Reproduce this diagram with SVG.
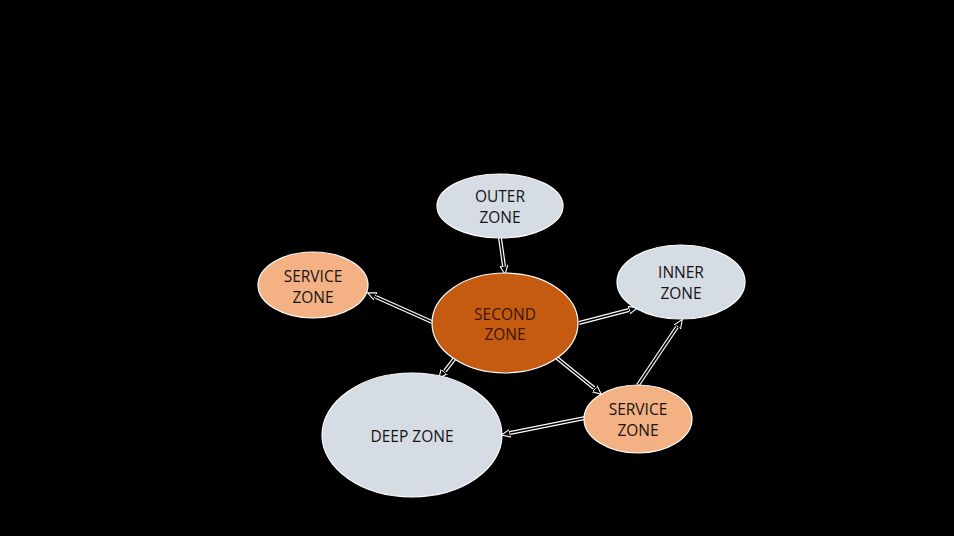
<svg xmlns="http://www.w3.org/2000/svg" width="954" height="536" viewBox="0 0 954 536">
<defs>
<style>
.bg{fill:#000}
.node ellipse{stroke:#fff;stroke-width:1.2}
.blue{fill:#d6dce4}
.light{fill:#f4b183}
.dark{fill:#c55a11}
text{font-family:"Open Sans","Liberation Sans",sans-serif;font-size:15.5px;fill:#141414;text-anchor:middle}
.dt{fill:#3a1604}
.outer{fill:none;stroke:#fff;stroke-width:4}
.inner{fill:none;stroke:#000;stroke-width:1.6}
</style>
<marker id="ah" viewBox="0 0 10 10" refX="9" refY="5" markerWidth="9" markerHeight="9" markerUnits="userSpaceOnUse" orient="auto">
<path d="M0,0.8 L9.5,5 L0,9.2 Z" fill="#000" stroke="#fff" stroke-width="1.2"/>
</marker>
</defs>
<rect class="bg" x="0" y="0" width="954" height="536"/>
<g id="connectors">
<path class="outer" d="M500,238 L504,266"/><path class="inner" d="M500,238 L504,266"/>
<path class="outer" d="M432,322 L376,297"/><path class="inner" d="M432,322 L376,297"/>
<path class="outer" d="M579,323 L629,310"/><path class="inner" d="M579,323 L629,310"/>
<path class="outer" d="M455,358 L445,371"/><path class="inner" d="M455,358 L445,371"/>
<path class="outer" d="M557,358 L594,388"/><path class="inner" d="M557,358 L594,388"/>
<path class="outer" d="M638,385 L677,327"/><path class="inner" d="M638,385 L677,327"/>
<path class="outer" d="M585,418 L510,433"/><path class="inner" d="M585,418 L510,433"/>
<g fill="none" stroke="none">
<path d="M500,238 L505,274" marker-end="url(#ah)"/>
<path d="M432,322 L368,293" marker-end="url(#ah)"/>
<path d="M579,323 L637,308" marker-end="url(#ah)"/>
<path d="M455,358 L439,378" marker-end="url(#ah)"/>
<path d="M557,358 L601,394" marker-end="url(#ah)"/>
<path d="M638,385 L682,320" marker-end="url(#ah)"/>
<path d="M585,418 L502,435" marker-end="url(#ah)"/>
</g>
</g>
<g id="outer-zone" class="node"><ellipse class="blue" cx="500" cy="206" rx="63" ry="32"/><text x="500" y="201.5">OUTER</text><text x="500" y="222.5">ZONE</text></g>
<g id="service-zone-left" class="node"><ellipse class="light" cx="313" cy="285" rx="55" ry="33"/><text x="313" y="281.5">SERVICE</text><text x="313" y="302.5">ZONE</text></g>
<g id="second-zone" class="node"><ellipse class="dark" cx="505" cy="323" rx="73" ry="50"/><text class="dt" x="505" y="319.5">SECOND</text><text class="dt" x="505" y="340">ZONE</text></g>
<g id="inner-zone" class="node"><ellipse class="blue" cx="681" cy="282" rx="64" ry="37"/><text x="681" y="277.5">INNER</text><text x="681" y="298.5">ZONE</text></g>
<g id="service-zone-right" class="node"><ellipse class="light" cx="638" cy="419" rx="54" ry="34"/><text x="638" y="414.5">SERVICE</text><text x="638" y="435.5">ZONE</text></g>
<g id="deep-zone" class="node"><ellipse class="blue" cx="412" cy="435" rx="90" ry="62"/><text x="412" y="441.5">DEEP ZONE</text></g>
</svg>
